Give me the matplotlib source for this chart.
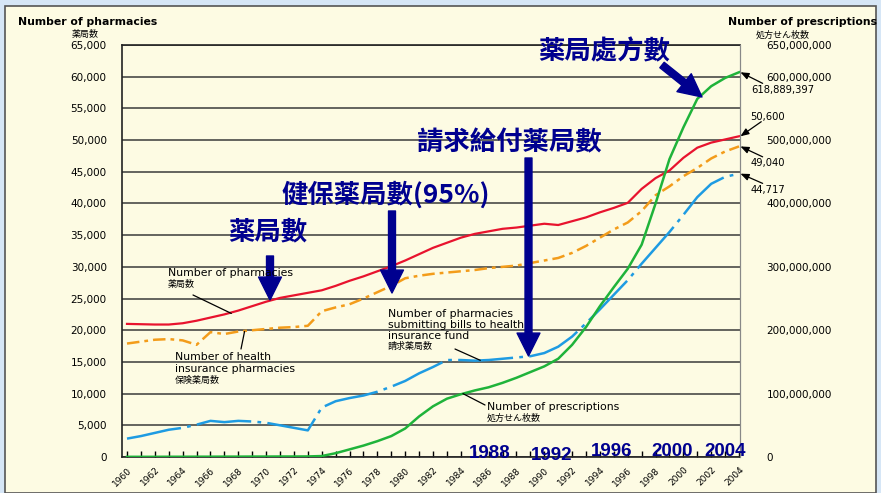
import matplotlib.pyplot as plt
from matplotlib.patches import Rectangle

# data
years = list(range(1960, 2005))
pharmacies = [21000, 20950, 20900, 20900, 21100, 21500, 22000, 22500, 23100, 23800,
              24500, 25100, 25500, 25900, 26300, 27000, 27800, 28500, 29300, 30100,
              31000, 32000, 33000, 33800, 34600, 35200, 35600, 36000, 36200, 36500,
              36800, 36600, 37200, 37800, 38600, 39300, 40100, 42300, 44000, 45200,
              47200, 48800, 49600, 50100, 50600]
insurance_pharmacies = [17900, 18200, 18500, 18600, 18400, 17700, 19700, 19400, 19800, 20000,
                        20200, 20400, 20500, 20700, 23000, 23600, 24100, 25000, 26000, 27000,
                        28200, 28600, 28900, 29100, 29300, 29500, 29800, 30000, 30200, 30600,
                        31000, 31400, 32200, 33300, 34600, 35900, 37000, 38800, 41300, 42700,
                        44300, 45600, 47100, 48200, 49000]
billing_pharmacies = [2900, 3300, 3800, 4300, 4600, 5100, 5700, 5500, 5700, 5600,
                      5400, 5000, 4600, 4200, 7800, 8800, 9300, 9700, 10300, 11100,
                      12000, 13200, 14200, 15300, 15300, 15200, 15300, 15500, 15700, 15900,
                      16400, 17400, 19000, 21100, 23300, 25600, 27900, 30500, 33000, 35500,
                      38200, 41000, 43100, 44200, 44700]
prescriptions_m = [0.3, 0.3, 0.3, 0.4, 0.4, 0.5, 0.5, 0.6, 0.6, 0.7,
                   0.7, 0.8, 0.8, 0.9, 1.5, 6, 12, 18, 25, 33,
                   45, 64, 80, 92, 99, 105, 110, 117, 125, 134,
                   143, 155, 177, 205, 238, 268, 297, 335, 400, 470,
                   520, 565, 585, 598, 607]
prescriptions = [v * 1e6 for v in prescriptions_m]

left_ticks = list(range(0, 65001, 5000))
right_ticks = [0, 100e6, 200e6, 300e6, 400e6, 500e6, 600e6, 650e6]
end_labels = ['618,889,397', '50,600', '49,040', '44,717']
period_labels = ['1988', '1992', '1996', '2000', '2004']

W, H = 881, 493


def P(px, py):
    return (px / W, 1 - py / H)


plt.rcParams['font.family'] = ['DejaVu Sans', 'Noto Sans CJK JP']
navy = '#00008f'
cjk = ['Noto Sans CJK TC', 'DejaVu Sans']

fig = plt.figure(figsize=(8.81, 4.93), dpi=100)
fig.patch.set_facecolor('#d6e6f6')
fig.add_artist(Rectangle(P(5, 493), 871 / W, 487 / H, transform=fig.transFigure,
                         facecolor='#fdfbe3', edgecolor='#555555', lw=1.2, zorder=-1))

ax = fig.add_axes([122 / W, 1 - 457 / H, 618 / W, 412 / H])
ax.set_facecolor('none')
ax.set_xlim(1959.64, 2004.07)
ax.set_ylim(0, 65000)
ax.set_yticks(left_ticks)
ax.set_yticklabels([f'{v:,}' for v in left_ticks])
ax.tick_params(axis='y', length=0, pad=11, labelsize=7.5)
ax.grid(axis='y', color='#3a3a3a', lw=1.1)
ax.set_axisbelow(True)
ax.set_xticks(range(1960, 2005, 2))
ax.set_xticks(years, minor=True)
ax.set_xticklabels([str(y) for y in range(1960, 2005, 2)], rotation=45,
                   ha='right', rotation_mode='anchor', fontsize=6.5)
ax.tick_params(axis='x', which='both', direction='in', length=4, width=1, pad=6)
for s in ['left', 'bottom', 'top']:
    ax.spines[s].set_color('#222222')
    ax.spines[s].set_linewidth(1.2)
ax.spines['right'].set_color('#888888')

ax.plot(years, pharmacies, color='#e8132e', lw=1.6)
ax.plot(years, insurance_pharmacies, color='#f39c1a', lw=1.8, ls=(0, (5, 2, 1.5, 2)))
ax.plot(years, billing_pharmacies, color='#1e9be2', lw=1.8, ls=(0, (22, 2.5, 1.5, 2.5)))

ax2 = ax.twinx()
ax2.set_ylim(0, 650e6)
ax2.set_yticks(right_ticks)
ax2.set_yticklabels([f'{int(v):,}' for v in right_ticks])
ax2.tick_params(axis='y', length=0, pad=19, labelsize=7.5)
for s in ['left', 'bottom', 'top']:
    ax2.spines[s].set_visible(False)
ax2.spines['right'].set_color('#888888')
ax2.plot(years, prescriptions, color='#1fb33a', lw=1.8)

# axis titles
fig.text(*P(18, 22), 'Number of pharmacies', fontsize=7.8, weight='bold', va='center')
fig.text(*P(85, 35), '薬局数', fontsize=6.5, ha='center', va='center')
fig.text(*P(877, 22), 'Number of prescriptions', fontsize=7.8, weight='bold', va='center', ha='right')
fig.text(*P(783, 35), '処方せん枚数', fontsize=6.5, ha='center', va='center')

# series labels with leader lines
lead = dict(arrowstyle='-', color='black', lw=0.9, shrinkA=0, shrinkB=0)


def series_label(lines, px, py0, step=11.5):
    for i, t in enumerate(lines):
        fig.text(*P(px, py0 + i * step), t, fontsize=7.8 if i == 0 or t.isascii() else 6.5,
                 va='center')


series_label(['Number of pharmacies', '薬局数'], 168, 273, 12)
ax.annotate('', xy=(1967.5, 22650), xytext=P(193, 295), textcoords='figure fraction',
            arrowprops=lead, annotation_clip=False)
series_label(['Number of health', 'insurance pharmacies', '保険薬局数'], 175, 357, 11.5)
ax.annotate('', xy=(1968.45, 19800), xytext=P(241, 349), textcoords='figure fraction',
            arrowprops=lead, annotation_clip=False)
series_label(['Number of pharmacies', 'submitting bills to health', 'insurance fund', '請求薬局数'],
             388, 314, 10.8)
ax.annotate('', xy=(1985.4, 15250), xytext=P(455, 349), textcoords='figure fraction',
            arrowprops=lead, annotation_clip=False)
series_label(['Number of prescriptions', '処方せん枚数'], 487, 406.5, 11.8)
ax2.annotate('', xy=(1984.15, 100e6), xytext=P(485, 405), textcoords='figure fraction',
             arrowprops=lead, annotation_clip=False)

# end values
small_arrow = dict(arrowstyle='-|>,head_length=0.5,head_width=0.2', color='black',
                   lw=0.9, shrinkA=0, shrinkB=0)
ends = [(ax2, prescriptions[-1], end_labels[0], (16, -8), (8, -13)),
        (ax, pharmacies[-1], end_labels[1], (15, 10.5), (7, 14)),
        (ax, insurance_pharmacies[-1], end_labels[2], (16, -7.5), (7, -12)),
        (ax, billing_pharmacies[-1], end_labels[3], (16, -7), (7, -11.5))]
for a, v, txt, tail, toff in ends:
    a.annotate('', xy=(2004.1, v), xytext=tail, textcoords='offset points',
               arrowprops=small_arrow, annotation_clip=False)
    a.annotate(txt, xy=(2004.1, v), xytext=toff, textcoords='offset points',
               fontsize=7.2, va='center', ha='left', annotation_clip=False)

# big blue callouts
big = dict(arrowstyle='simple,head_length=1.65,head_width=1.65,tail_width=0.5',
           color=navy, shrinkA=0, shrinkB=0)
for tail, tip in [((270, 256), (270, 300)), ((392, 211), (392, 293)),
                  ((528.5, 158), (528.5, 356)), ((662, 65), (702, 97))]:
    ax2.annotate('', xy=P(*tip), xycoords='figure fraction', xytext=P(*tail),
                 textcoords='figure fraction', arrowprops=big, annotation_clip=False)

fig.text(*P(417, 143), '請求給付薬局數', family=cjk, weight='bold', fontsize=19, color=navy, va='center')
fig.text(*P(282, 195), '健保薬局數(95%)', family=cjk, weight='bold', fontsize=19, color=navy, va='center')
fig.text(*P(228, 232), '薬局數', family=cjk, weight='bold', fontsize=19, color=navy, va='center')
fig.text(*P(538, 52), '薬局處方數', family=cjk, weight='bold', fontsize=19, color=navy, va='center')

for txt, px, py in zip(period_labels, [490, 552, 612, 672, 725], [454, 455, 452, 452, 452]):
    fig.text(*P(px, py), txt, family=['Liberation Sans'], weight='bold', fontsize=13.5,
             color=navy, ha='center', va='center')

fig.savefig('out.png', dpi=100)
